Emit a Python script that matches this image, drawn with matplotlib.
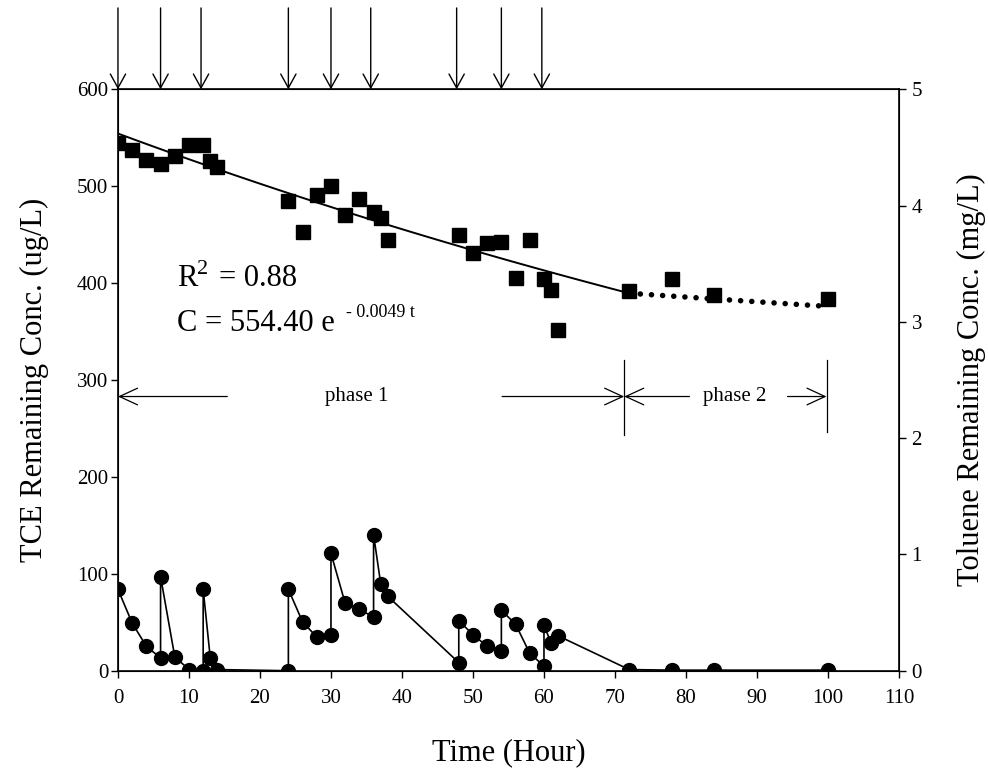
import numpy as np
import matplotlib
matplotlib.use("Agg")
import matplotlib.pyplot as plt

plt.rcParams['font.family'] = ['Liberation Serif', 'DejaVu Serif']

# TCE (ug/L), left axis
tce_t = [0, 2, 4, 6, 8, 10, 12, 13, 14, 24, 26, 28, 30, 32, 34, 36, 37, 38,
         48, 50, 52, 54, 56, 58, 60, 61, 62, 72, 78, 84, 100]
tce_c = [545, 537, 527, 523, 531, 543, 543, 526, 520, 485, 453, 491, 500, 470, 487, 473, 467, 445,
         450, 431, 441, 442, 405, 445, 404, 393, 352, 392, 404, 388, 384]

# Toluene (mg/L), right axis - spikes are re-injections
tol_t = [0, 2, 4, 6, 6, 8, 10, 12, 12, 13, 14, 24, 24, 26, 28, 30, 30, 32, 34, 36, 36, 37, 38,
         48, 48, 50, 52, 54, 54, 56, 58, 60, 60, 61, 62, 72, 78, 84, 100]
tol_c = [0.70, 0.41, 0.21, 0.11, 0.81, 0.12, 0.01, 0.0, 0.70, 0.11, 0.01, 0.0, 0.70, 0.42, 0.29,
         0.31, 1.01, 0.58, 0.53, 0.46, 1.17, 0.75, 0.64,
         0.07, 0.43, 0.31, 0.21, 0.17, 0.52, 0.40, 0.15, 0.04, 0.39, 0.24, 0.30, 0.01, 0.005, 0.005, 0.005]

# toluene injection times (arrows on top)
inject_t = [0, 6, 11.7, 24, 30, 35.6, 47.7, 54, 59.7]

# fit parameters
c0, k1 = 554.40, 0.0049
k2 = 0.00127

fig = plt.figure(figsize=(9.88, 7.73), dpi=100)
ax = fig.add_axes([0.1194, 0.1323, 0.7905, 0.7521])

ax.plot(tce_t, tce_c, 's', color='black', ms=9.5, zorder=3)

t1 = np.linspace(0, 72, 100)
ax.plot(t1, c0 * np.exp(-k1 * t1), color='black', lw=1.4)
c72 = c0 * np.exp(-k1 * 72)
t2 = np.linspace(72, 100, 100)
ax.plot(t2, c72 * np.exp(-k2 * (t2 - 72)), color='black', lw=4,
        linestyle=(0, (0.01, 2.0)), dash_capstyle='round')

ax.set_xlim(0, 110)
ax.set_ylim(0, 600)
ax.set_xticks(range(0, 111, 10))
ax.set_yticks(range(0, 601, 100))
ax.tick_params(direction='out', length=5, width=1, labelsize=15, pad=2)
ax.tick_params(axis='x', pad=8)
ax.set_xlabel("Time (Hour)", fontsize=22, labelpad=22)
ax.set_ylabel("TCE Remaining Conc. (ug/L)", fontsize=22, labelpad=20)

ax2 = ax.twinx()
ax2.plot(tol_t, tol_c, '-o', color='black', lw=1.2, ms=10, zorder=3)
ax2.set_ylim(0, 5)
ax2.set_yticks(range(0, 6))
ax2.tick_params(direction='out', length=5, width=1, labelsize=15, pad=4)
ax2.set_ylabel("Toluene Remaining Conc. (mg/L)", fontsize=22, labelpad=25)

for sp in ax.spines.values():
    sp.set_linewidth(1.2)

# fit text
ax.text(8.3, 405, "R", fontsize=22, va='center', ha='left')
ax.text(11.1, 414, "2", fontsize=16, va='center', ha='left')
ax.text(14.2, 405, "= 0.88", fontsize=22, va='center', ha='left')
ax.text(8.3, 358, "C = 554.40 e", fontsize=22, va='center', ha='left')
ax.text(32.1, 370, "- 0.0049 t", fontsize=13, va='center', ha='left')

# injection arrows
for t in inject_t:
    ax.annotate('', xy=(t, 1.0), xycoords=('data', 'axes fraction'),
                xytext=(t, 1.14), textcoords=('data', 'axes fraction'),
                arrowprops=dict(arrowstyle='->,head_length=1.0,head_width=0.55',
                                lw=1, color='black', shrinkA=0, shrinkB=0,
                                mutation_scale=10), annotation_clip=False)

# phase markers
ya = 283
ap = dict(arrowstyle='->,head_length=1.3,head_width=0.6', lw=0.9, color='black',
          shrinkA=0, shrinkB=0, mutation_scale=10)
ax.annotate('', xy=(0, ya), xytext=(15.4, ya), arrowprops=ap)
ax.annotate('', xy=(71.3, ya), xytext=(54.1, ya), arrowprops=ap)
ax.annotate('', xy=(71.3, ya), xytext=(80.5, ya), arrowprops=ap)
ax.annotate('', xy=(99.8, ya), xytext=(94.3, ya), arrowprops=ap)
ax.plot([71.3, 71.3], [243, 321], color='black', lw=0.9)
ax.plot([99.8, 99.8], [246, 321], color='black', lw=0.9)
ax.text(33.6, ya, "phase 1", fontsize=15, ha='center', va='center')
ax.text(86.8, ya, "phase 2", fontsize=15, ha='center', va='center')

fig.savefig("out.png", dpi=100)
